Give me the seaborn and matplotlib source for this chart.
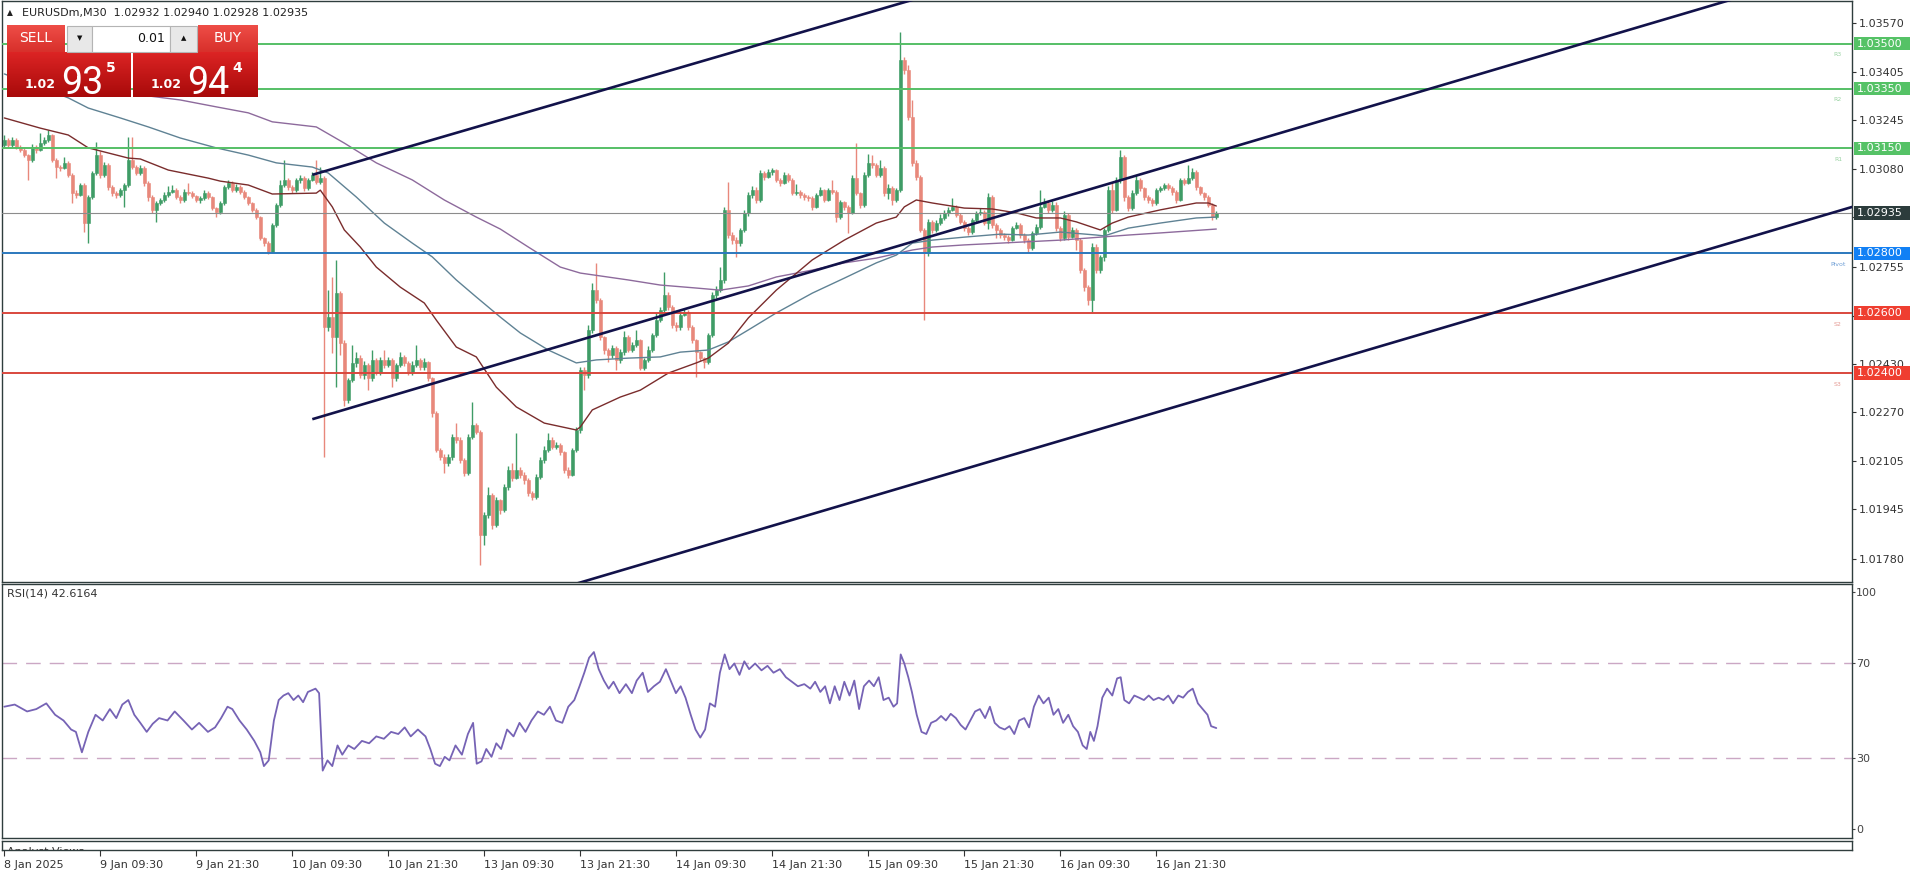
import numpy as np
import pandas as pd
import matplotlib
matplotlib.use("Agg")
import matplotlib.pyplot as plt
import matplotlib.transforms as mtransforms
from matplotlib.colors import to_rgb
from matplotlib.patches import Rectangle
import seaborn as sns

# prices are kept as points above 1.00000 (1 point = 0.00001)
first_open = 3162
close_pts = [
    3178, 3162, 3178, 3155, 3145, 3128, 3112, 3155, 3145, 3168,
    3178, 3195, 3112, 3088, 3085, 3102, 3062, 3001, 2995, 3028,
    2901, 2988, 3068, 3128, 3062, 3095, 3021, 3001, 2995, 3011,
    3028, 3112, 3088, 3068, 3085, 3035, 2988, 2945, 2968, 2978,
    2995, 3005, 3011, 2988, 2978, 3005, 3001, 2991, 2978, 2985,
    3001, 2988, 2951, 2938, 2968, 3021, 3035, 3011, 3021, 3005,
    2988, 2968, 2945, 2921, 2851, 2834, 2804, 2894, 2961, 3028,
    3045, 3021, 3011, 3045, 3052, 3018, 3045, 3062, 3038, 3052,
    2554, 2587, 2520, 2667, 2500, 2310, 2377, 2434, 2450, 2394,
    2427, 2383, 2444, 2404, 2444, 2427, 2444, 2383, 2427, 2454,
    2434, 2404, 2427, 2444, 2420, 2437, 2383, 2267, 2143, 2120,
    2100, 2120, 2186, 2176, 2110, 2066, 2186, 2226, 2203, 1859,
    1926, 1993, 1892, 1976, 1943, 2019, 2076, 2050, 2076, 2060,
    2043, 1999, 1986, 2053, 2110, 2143, 2176, 2153, 2160, 2136,
    2076, 2060, 2143, 2210, 2410, 2394, 2544, 2677, 2644, 2520,
    2477, 2460, 2484, 2444, 2470, 2520, 2477, 2494, 2510, 2417,
    2444, 2477, 2527, 2577, 2611, 2661, 2621, 2560, 2554, 2594,
    2601, 2554, 2510, 2470, 2450, 2437, 2527, 2661, 2677, 2711,
    2945, 2861, 2844, 2834, 2878, 2935, 2995, 3011, 2978, 3068,
    3055, 3072, 3078, 3045, 3035, 3062, 3045, 3001, 3005, 2995,
    2988, 2985, 2955, 2995, 3011, 2978, 3011, 3005, 2921, 2971,
    2955, 2935, 3052, 3001, 2961, 3062, 3102, 3095, 3062, 3085,
    3001, 3018, 2978, 3011, 3446, 3412, 3255, 3102, 3055, 2878,
    2801, 2905, 2878, 2901, 2918, 2935, 2945, 2955, 2928, 2905,
    2884, 2871, 2911, 2935, 2938, 2901, 2988, 2894, 2878, 2861,
    2854, 2844, 2884, 2894, 2861, 2844, 2818, 2868, 2888, 2955,
    2968, 2945, 2961, 2884, 2851, 2928, 2854, 2878, 2844, 2744,
    2688, 2644, 2821, 2744, 2788, 2878, 3011, 2945, 3045, 3122,
    2988, 2951, 3001, 3045, 3018, 2988, 2978, 2968, 3011, 3018,
    3028, 3018, 3005, 2978, 3045, 3035, 3052, 3072, 3021, 3001,
    2988, 2961, 2921, 2935,
]
high_pts = [
    3195, 3185, 3188, 3185, 3160, 3150, 3132, 3165, 3162, 3202,
    3190, 3212, 3200, 3118, 3095, 3122, 3108, 3068, 3010, 3035,
    3035, 2995, 3075, 3172, 3140, 3105, 3102, 3028, 3008, 3018,
    3035, 3188, 3188, 3095, 3095, 3092, 3040, 2995, 2975, 2985,
    3005, 3025, 3028, 3018, 2995, 3015, 3035, 3008, 2995, 2991,
    3011, 3008, 2991, 2955, 2975, 3028, 3045, 3040, 3030, 3028,
    3011, 2991, 2971, 2951, 2925, 2855, 2840, 2900, 2968, 3045,
    3112, 3052, 3028, 3052, 3062, 3058, 3052, 3072, 3112, 3088,
    3058, 2677, 2721, 2778, 2675, 2510, 2385, 2494, 2470, 2460,
    2440, 2435, 2477, 2450, 2455, 2477, 2455, 2450, 2435, 2470,
    2460, 2440, 2440, 2494, 2450, 2450, 2440, 2387, 2275, 2150,
    2130, 2130, 2195, 2233, 2186, 2115, 2195, 2303, 2235, 2210,
    1935, 2019, 2000, 1985, 1980, 2030, 2090, 2100, 2200, 2085,
    2070, 2050, 2005, 2062, 2120, 2155, 2200, 2185, 2170, 2168,
    2140, 2085, 2150, 2220, 2420, 2420, 2560, 2700, 2768, 2650,
    2525, 2485, 2495, 2490, 2480, 2540, 2527, 2505, 2544, 2515,
    2450, 2490, 2535, 2600, 2620, 2738, 2670, 2627, 2570, 2605,
    2615, 2610, 2560, 2515, 2475, 2455, 2535, 2670, 2690, 2754,
    2955, 3038, 2870, 2855, 2885, 2945, 3005, 3025, 3020, 3078,
    3075, 3080, 3085, 3082, 3050, 3070, 3068, 3050, 3030, 3011,
    3000, 2995, 2990, 3002, 3022, 3015, 3018, 3045, 3011, 2978,
    2975, 2960, 3060, 3168, 3005, 3070, 3130, 3128, 3100, 3112,
    3090, 3030, 3025, 3018, 3539, 3455, 3430, 3312, 3110, 3062,
    2885, 2915, 2910, 2910, 2930, 2945, 2955, 2985, 2962, 2935,
    2910, 2890, 2918, 2942, 2950, 2945, 3001, 2995, 2900, 2885,
    2868, 2860, 2892, 2905, 2900, 2868, 2850, 2875, 2898, 3011,
    2985, 2975, 2975, 2970, 2890, 2940, 2935, 2888, 2885, 2850,
    2750, 2695, 2835, 2830, 2795, 2885, 3025, 3035, 3055, 3145,
    3128, 2995, 3010, 3062, 3050, 3022, 2995, 2985, 3018, 3025,
    3035, 3035, 3025, 3010, 3052, 3052, 3095, 3085, 3078, 3025,
    3005, 2995, 2968, 2940,
]
low_pts = [
    3155, 3155, 3155, 3148, 3138, 3120, 3045, 3105, 3135, 3140,
    3160, 3170, 3105, 3052, 3075, 3080, 3055, 2968, 2985, 2990,
    2871, 2834, 2980, 3060, 3052, 3055, 3011, 2991, 2985, 2988,
    2955, 3020, 3080, 3060, 3060, 3025, 2975, 2935, 2905, 2960,
    2970, 2988, 3000, 2980, 2968, 2970, 2995, 2985, 2970, 2968,
    2978, 2980, 2945, 2921, 2931, 2961, 3015, 3005, 3005, 2998,
    2980, 2961, 2938, 2915, 2845, 2825, 2798, 2800, 2888, 2955,
    3020, 3011, 3001, 3005, 3035, 3008, 3011, 3040, 3030, 3030,
    2120, 2540, 2467, 2353, 2460, 2290, 2300, 2370, 2420, 2385,
    2380, 2343, 2375, 2395, 2395, 2418, 2420, 2353, 2375, 2420,
    2425, 2395, 2395, 2420, 2410, 2410, 2375, 2255, 2135, 2110,
    2066, 2090, 2110, 2165, 2100, 2055, 2060, 2180, 2195, 1759,
    1826, 1915, 1880, 1885, 1930, 1935, 2010, 2040, 2045, 2050,
    2030, 1990, 1976, 1980, 2045, 2100, 2135, 2145, 2145, 2128,
    2066, 2050, 2055, 2135, 2200, 2343, 2385, 2535, 2635, 2510,
    2465, 2437, 2450, 2410, 2435, 2460, 2470, 2470, 2487, 2410,
    2410, 2437, 2470, 2520, 2570, 2604, 2610, 2550, 2540, 2545,
    2590, 2545, 2500, 2387, 2440, 2417, 2430, 2520, 2650, 2670,
    2700, 2850, 2830, 2788, 2825, 2870, 2925, 2985, 2968, 2970,
    3045, 3050, 3062, 3038, 3025, 3030, 3038, 2995, 2995, 2985,
    2978, 2975, 2945, 2950, 2990, 2970, 2975, 2998, 2905, 2915,
    2945, 2868, 2930, 2995, 2950, 2955, 3055, 3085, 3055, 3055,
    2991, 2980, 2961, 2971, 3005, 3400, 3245, 3090, 3045, 2870,
    2578, 2790, 2868, 2870, 2895, 2910, 2925, 2940, 2920, 2898,
    2875, 2862, 2865, 2905, 2928, 2895, 2880, 2885, 2850, 2850,
    2845, 2835, 2840, 2880, 2852, 2835, 2804, 2810, 2860, 2880,
    2950, 2935, 2938, 2875, 2840, 2845, 2845, 2850, 2811, 2735,
    2675, 2627, 2604, 2735, 2735, 2775, 2870, 2935, 2940, 3035,
    2975, 2941, 2945, 2995, 3008, 2978, 2968, 2958, 2962, 3005,
    3011, 3010, 2995, 2968, 2975, 3028, 3030, 3045, 3011, 2995,
    2978, 2955, 2911, 2915,
]

# moving averages (bar index, points)
ma_fast_bar = [0, 9, 16, 21, 31, 34, 41, 51, 54, 61, 67, 78, 79, 82, 85, 89, 93, 99, 105, 108,
               113, 118, 123, 128, 135, 143, 144, 147, 154, 159, 166, 173, 176, 181, 186, 193,
               202, 210, 218, 223, 225, 228, 232, 240, 247, 253, 258, 264, 268, 274, 277, 281,
               289, 298, 301, 303]
ma_fast_pts = [3252, 3218, 3195, 3152, 3118, 3115, 3078, 3051, 3041, 3028, 2998, 3001, 3011, 2955,
               2878, 2821, 2754, 2687, 2634, 2577, 2487, 2454, 2353, 2287, 2233, 2210, 2220, 2277,
               2320, 2343, 2400, 2434, 2450, 2500, 2584, 2677, 2778, 2844, 2901, 2921, 2955, 2978,
               2968, 2951, 2948, 2935, 2918, 2918, 2905, 2878, 2901, 2921, 2945, 2968, 2968, 2958]
ma_mid_bar = [0, 16, 21, 29, 36, 44, 53, 61, 68, 77, 81, 88, 95, 102, 107, 113, 118, 124, 129, 136,
              143, 148, 156, 164, 169, 176, 181, 186, 193, 202, 210, 218, 223, 227, 232, 240, 249,
              256, 264, 273, 275, 281, 289, 298, 303]
ma_mid_pts = [3399, 3319, 3285, 3252, 3222, 3185, 3152, 3128, 3102, 3088, 3068, 2988, 2901, 2834,
              2788, 2711, 2654, 2587, 2534, 2477, 2434, 2444, 2450, 2454, 2470, 2477, 2504, 2544,
              2601, 2667, 2717, 2768, 2794, 2834, 2844, 2854, 2864, 2861, 2871, 2861, 2858, 2884,
              2901, 2918, 2921]
ma_slow_bar = [34, 44, 53, 61, 67, 78, 85, 93, 102, 110, 118, 124, 131, 139, 144, 156, 164, 173,
               179, 186, 193, 202, 210, 218, 227, 232, 240, 249, 264, 281, 289, 303]
ma_slow_pts = [3329, 3312, 3289, 3269, 3239, 3222, 3168, 3102, 3045, 2978, 2921, 2881, 2821, 2754,
               2734, 2711, 2694, 2684, 2677, 2691, 2721, 2744, 2768, 2784, 2811, 2821, 2828, 2834,
               2844, 2861, 2868, 2881]

# trend channel lines (two anchor points each)
chan_bar = [[77, 228], [77, 432], [140, 462]]
chan_pts = [[3062, 3650], [2246, 3648], [1685, 2955]]

level_names = ["R3", "R2", "R1", "Pivot", "S2", "S3"]
level_prices = [1.03500, 1.03350, 1.03150, 1.02800, 1.02600, 1.02400]
last_price = 1.02935
price_ticks = [1.03570, 1.03405, 1.03245, 1.03080, 1.02920, 1.02755, 1.02590,
               1.02430, 1.02270, 1.02105, 1.01945, 1.01780]
# these two scale labels sit under the price boxes and are not visible
hidden_ticks = [1.02920, 1.02590]

time_tick_bars = [0, 24, 48, 72, 96, 120, 144, 168, 192, 216, 240, 264, 288]
time_labels = ["8 Jan 2025", "9 Jan 09:30", "9 Jan 21:30", "10 Jan 09:30", "10 Jan 21:30",
               "13 Jan 09:30", "13 Jan 21:30", "14 Jan 09:30", "14 Jan 21:30", "15 Jan 09:30",
               "15 Jan 21:30", "16 Jan 09:30", "16 Jan 21:30"]

rsi_bar = [0, 2.6, 5.7, 8, 10.5, 12.7, 14.8, 16.7, 17.9, 19.4, 21, 22.8, 24.6, 26.4, 28, 29.5, 31,
           32.5, 34, 35.6, 37.1, 38.7, 40.8, 42.6, 44.8, 46.9, 48.7, 50.9, 52.7, 54.2, 55.8, 57,
           58.8, 60.6, 62.5, 64, 64.9, 66.1, 67.4, 68.6, 69.8, 71, 72.3, 73.5, 74.7, 75.9, 77.8,
           78.7, 79.6, 80.8, 82, 83.3, 84.5, 86, 87.5, 89.4, 91.2, 93, 94.9, 96.7, 98.5, 100.1,
           101.6, 103.4, 105.3, 106.5, 107.7, 108.9, 110.1, 111.3, 112.8, 114.4, 115.9, 117.2,
           118.1, 119.3, 120.5, 121.8, 123, 124.2, 125.7, 127.3, 128.8, 130.3, 131.8, 133.4,
           134.9, 136.4, 137.9, 139.5, 141, 142.5, 143.8, 145, 146.2, 147.4, 148.6, 149.9, 151.1,
           152.3, 153.8, 155.4, 156.9, 158.1, 159.6, 160.9, 162.4, 163.9, 165.4, 166.7, 167.9,
           169.1, 170.3, 171.6, 172.8, 174, 175.2, 176.4, 177.7, 178.9, 180.1, 181.3, 182.5,
           183.8, 185, 186.2, 187.7, 189.3, 190.8, 192.3, 193.9, 195.4, 196.9, 198.4, 200, 201.5,
           202.7, 204, 205.2, 206.4, 207.6, 208.8, 210, 211.3, 212.5, 213.7, 214.9, 216.2, 217.4,
           218.6, 219.8, 221.1, 222.3, 223.2, 224.1, 225, 226, 226.9, 228.1, 229.3, 230.5, 231.7,
           233, 234.2, 235.4, 236.6, 237.9, 239.1, 240.3, 241.5, 242.7, 243.9, 245.2, 246.4,
           247.6, 248.8, 250.1, 251.3, 252.5, 253.7, 255, 256.2, 257.4, 258.6, 259.8, 261.1,
           262.3, 263.5, 264.7, 266, 267.2, 268.4, 269.6, 270.6, 271.5, 272.4, 273.3, 274.5,
           275.7, 277, 278.2, 279.1, 280, 281.2, 282.5, 283.7, 284.9, 286.1, 287.3, 288.6, 289.8,
           291, 292.2, 293.5, 294.7, 295.9, 297.1, 298.4, 299.6, 300.8, 301.7, 303]
rsi_val = [51.6, 52.5, 49.6, 50.6, 53, 48.2, 45.8, 42, 41, 32.4, 41, 48.2, 45.8, 50.6, 46.8, 52.5,
           54.4, 48.2, 44.8, 41, 44.4, 46.8, 45.8, 49.6, 45.8, 42, 44.8, 41, 42.9, 46.8, 51.6, 50.6,
           45.8, 42, 37.2, 32.4, 26.6, 29, 45.8, 54.4, 56.3, 57.3, 54.4, 56.3, 53.5, 57.8, 59.2,
           57.3, 24.7, 29, 26.6, 35.3, 31.4, 35.3, 33.8, 37.2, 36.2, 39.1, 38.1, 41, 40.1, 42.9,
           39.1, 42, 39.1, 33.8, 27.6, 26.6, 30.5, 29, 35.3, 31.4, 40.1, 44.8, 27.6, 28.6, 33.8,
           30.5, 36.2, 33.8, 42, 39.1, 44.8, 41, 45.8, 49.6, 48.2, 51.6, 45.8, 44.8, 51.6, 54.4,
           60.2, 65.9, 72.2, 74.6, 67.4, 62.6, 59.2, 62.1, 57.3, 61.1, 57.3, 62.6, 65.9, 57.8,
           60.2, 62.1, 67.4, 62.1, 57.3, 60.2, 55.4, 48.2, 42, 38.6, 42, 53, 51.6, 65.9, 73.6,
           67.4, 69.8, 65, 70.7, 67.4, 69.8, 66.9, 68.8, 65.9, 67.4, 64, 62.1, 60.2, 61.1, 59.2,
           62.1, 57.8, 60.2, 53, 60.2, 54.4, 62.1, 56.3, 62.6, 50.6, 60.2, 62.6, 60.2, 64, 54.4,
           55.4, 51.6, 53, 73.6, 69.8, 64, 57.8, 48.2, 41, 40.1, 44.8, 45.8, 47.7, 45.8, 48.6,
           46.8, 43.9, 42, 45.8, 49.6, 50.6, 46.8, 51.6, 44.8, 42.9, 42, 43.4, 40.1, 45.8, 46.8,
           42.9, 51.6, 56.3, 53, 55.4, 48.2, 50.6, 44.8, 48.2, 43.4, 41, 35.3, 33.8, 41, 37.2,
           43.4, 55.4, 59.2, 56.3, 63.5, 64, 54.4, 53, 56.3, 55.4, 54.4, 56.3, 54.4, 55.4, 54.4,
           56.3, 53, 56.3, 55.4, 57.8, 59.2, 53, 50.6, 48.2, 43.4, 42.6164]

W, H = 1916, 874
UP, DOWN = "#3f9c66", "#e8887b"
FRAME = "#2f3d3d"
GREEN, BLUE, RED = "#55bf66", "#2b78bd", "#d9473d"
BOX_COLORS = ["#55c266", "#55c266", "#55c266", "#1180f5", "#ef3e30", "#ef3e30"]
LINE_COLORS = [GREEN, GREEN, GREEN, BLUE, RED, RED]
NAME_COLORS = ["#9ad3a3", "#9ad3a3", "#9ad3a3", "#6f9fd6", "#e59a93", "#e59a93"]

sns.set_style("white")
plt.rcParams["font.family"] = ["DejaVu Sans"]

fig = plt.figure(figsize=(W / 100, H / 100), dpi=100)


def px_box(x0, y0, x1, y1):
    return [x0 / W, 1 - y1 / H, (x1 - x0) / W, (y1 - y0) / H]


ax = fig.add_axes(px_box(2, 1, 1852, 582))
ax_rsi = fig.add_axes(px_box(2, 584, 1852, 838))
ax_av = fig.add_axes(px_box(2, 841, 1852, 850))

# candles
df = pd.DataFrame({
    "bar": np.arange(len(close_pts)),
    "close": 1 + np.array(close_pts) / 1e5,
    "high": 1 + np.array(high_pts) / 1e5,
    "low": 1 + np.array(low_pts) / 1e5,
})
df["open"] = df["close"].shift(1).fillna(1 + first_open / 1e5)
colors = np.where(df["close"] >= df["open"], UP, DOWN)
ax.vlines(df["bar"], df["low"], df["high"], colors=colors, lw=1, zorder=2)
ax.bar(df["bar"], (df["close"] - df["open"]).abs(), bottom=df[["open", "close"]].min(axis=1),
       width=0.72, color=colors, edgecolor=colors, linewidth=0.4, zorder=2.2)

# moving averages
for bars, pts, col in [(ma_slow_bar, ma_slow_pts, "#8d6a9c"),
                       (ma_mid_bar, ma_mid_pts, "#5f8294"),
                       (ma_fast_bar, ma_fast_pts, "#7a2c2c")]:
    sns.lineplot(x=bars, y=1 + np.array(pts) / 1e5, ax=ax, color=col, lw=1,
                 estimator=None, sort=False, zorder=2.5)

# support / resistance and price line
for p, c in zip(level_prices, LINE_COLORS):
    ax.axhline(p, color=c, lw=1.4, zorder=3)
ax.axhline(last_price, color="#8c8c8c", lw=0.8, zorder=3)

# channel
for bars, pts in zip(chan_bar, chan_pts):
    ax.plot(bars, 1 + np.array(pts) / 1e5, color="#12124a", lw=1.9, zorder=4,
            solid_capstyle="butt")

ax.set_xlim((2 - 4.3) / 4, (1852 - 4.3) / 4)
ax.set_ylim(1.017024, 1.036425)
ax.set_xlabel("")
ax.set_ylabel("")
ax.set_xticks([])
ax.yaxis.tick_right()
ax.set_yticks(price_ticks)
ax.set_yticklabels(["" if p in hidden_ticks else f"{p:.5f}" for p in price_ticks])
ax.tick_params(axis="y", right=True, length=3, width=0.8, pad=2, labelsize=8,
               color="#333333", labelcolor="#333333", direction="out")

# right-side price boxes
trans = mtransforms.blended_transform_factory(ax.transAxes, ax.transData)
box_h = 13.5 * 0.0000334
bx0 = (1854 - 2) / 1850
bw = 56 / 1850
for name, p, bc, nc in zip(level_names, level_prices, BOX_COLORS, NAME_COLORS):
    ax.add_patch(Rectangle((bx0, p - box_h / 2), bw, box_h, transform=trans,
                           facecolor=bc, edgecolor="none", clip_on=False, zorder=6))
    ax.text(bx0 + 3 / 1850, p, f"{p:.5f}", transform=trans, color="white", fontsize=8,
            va="center", ha="left", clip_on=False, zorder=7)
    ax.text((1838 - 2) / 1850, p - 11 * 0.0000334, name, transform=trans, color=nc,
            fontsize=4.5, va="center", ha="center", zorder=5)
ax.add_patch(Rectangle((bx0, last_price - box_h / 2), bw, box_h, transform=trans,
                       facecolor="#2c3c3c", edgecolor="none", clip_on=False, zorder=6))
ax.text(bx0 + 3 / 1850, last_price, f"{last_price:.5f}", transform=trans, color="white",
        fontsize=8, va="center", ha="left", clip_on=False, zorder=7)

# title line
ax.text(5 / 1850, 1 - 12 / 581, "\u25B2", transform=ax.transAxes, fontsize=5.5,
        color="#222222", va="center", ha="left")
ax.text(20 / 1850, 1 - 12 / 581, "EURUSDm,M30  1.02932 1.02940 1.02928 1.02935",
        transform=ax.transAxes, fontsize=8, color="#222222", va="center", ha="left")

# RSI panel
ax_rsi.axhline(70, color="#cba7c4", lw=1, dashes=(10.5, 6.5))
ax_rsi.axhline(30, color="#cba7c4", lw=1, dashes=(10.5, 6.5))
sns.lineplot(x=rsi_bar, y=rsi_val, ax=ax_rsi, color="#7663b5", lw=1.3,
             estimator=None, sort=False)
ax_rsi.set_xlim((2 - 4.3) / 4, (1852 - 4.3) / 4)
ax_rsi.set_ylim(-3.66, 103.24)
ax_rsi.set_xlabel("")
ax_rsi.set_ylabel("")
ax_rsi.set_xticks([])
ax_rsi.yaxis.tick_right()
ax_rsi.set_yticks([0, 30, 70, 100])
ax_rsi.set_yticklabels(["0", "30", "70", "100"])
ax_rsi.tick_params(axis="y", right=True, length=2, width=0.8, pad=1, labelsize=8,
                   color="#444444", labelcolor="#444444")
ax_rsi.text(5 / 1850, 1 - 9 / 254, "RSI(14) 42.6164", transform=ax_rsi.transAxes,
            fontsize=8, color="#333333", va="center", ha="left")

# bottom strip with time axis
ax_av.set_xlim((2 - 4.3) / 4, (1852 - 4.3) / 4)
ax_av.set_ylim(0, 1)
ax_av.set_yticks([])
ax_av.set_xticks(time_tick_bars)
ax_av.set_xticklabels(time_labels, ha="left")
ax_av.tick_params(axis="x", bottom=True, length=4, width=0.8, pad=3, labelsize=8,
                  color="#333333", labelcolor="#333333", direction="out")
ax_av.text(5 / 1850, -0.25, "Analyst Views", transform=ax_av.transAxes, fontsize=8,
           color="#333333", va="center", ha="left", clip_on=True)

for a in (ax, ax_rsi, ax_av):
    for s in a.spines.values():
        s.set_color(FRAME)
        s.set_linewidth(1)

# one-click trading panel
panel = fig.add_axes(px_box(7, 25, 258, 99), zorder=10)
panel.set_axis_off()


def gradient(x0, y0, x1, y1, top, bottom):
    c0, c1 = np.array(to_rgb(top)), np.array(to_rgb(bottom))
    t = np.linspace(0, 1, 40)[:, None, None]
    panel.imshow(c0 + (c1 - c0) * t, extent=(x0, x1, y1, y0), aspect="auto",
                 interpolation="bilinear", zorder=1)


gradient(7, 25, 65, 52, "#ee4d47", "#d8302b")
gradient(198, 25, 258, 52, "#ee4d47", "#d8302b")
gradient(7, 52, 131, 97, "#dc2424", "#a80a0a")
gradient(133, 52, 258, 97, "#dc2424", "#a80a0a")
for x0, x1, fc in [(67, 92, "#e8e8e8"), (92, 170, "white"), (170, 197, "#e8e8e8")]:
    panel.add_patch(Rectangle((x0, 25.5), x1 - x0, 26, facecolor=fc, edgecolor="#b4b4b4",
                              lw=0.8, zorder=2))
panel.text(79.5, 38.5, "\u25BC", fontsize=5, ha="center", va="center", color="#111111", zorder=3)
panel.text(183.5, 38.5, "\u25B2", fontsize=5, ha="center", va="center", color="#111111", zorder=3)
panel.text(165, 38.5, "0.01", fontsize=9, ha="right", va="center", color="#111111", zorder=3)
panel.text(36, 38.5, "SELL", fontsize=10, ha="center", va="center", color="white", zorder=3)
panel.text(228, 38.5, "BUY", fontsize=10, ha="center", va="center", color="white", zorder=3)
for x_small, x_big, x_sup, big, sup in [(25, 61, 106, "93", "5"), (151, 187, 232, "94", "4")]:
    panel.text(x_small, 88, "1.02", fontsize=9, fontweight="bold", ha="left",
               va="baseline", color="white", zorder=3)
    panel.text(x_big, 94, big, fontsize=27, family=["Roboto", "DejaVu Sans"], ha="left",
               va="baseline", color="white", zorder=3)
    panel.text(x_sup, 61, sup, fontsize=10, fontweight="bold", ha="left", va="top",
               color="white", zorder=3)
panel.set_xlim(7, 258)
panel.set_ylim(99, 25)

fig.savefig("out.png", dpi=100, facecolor="white")
